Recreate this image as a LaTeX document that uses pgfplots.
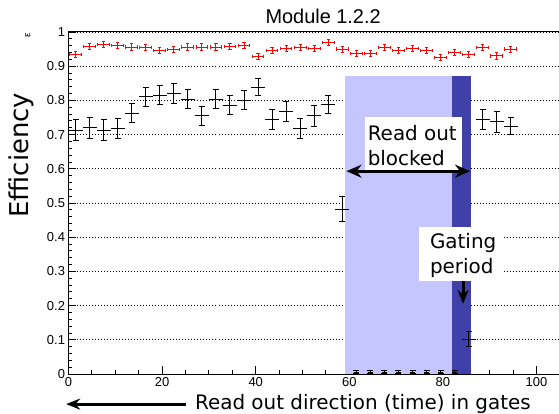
\documentclass[border=0pt]{standalone}
\usepackage{fontspec}
\setmainfont{Liberation Sans}
\newfontfamily\dejavu{DejaVu Sans}
\usepackage{pgfplots}
\pgfplotsset{compat=1.18}
\usetikzlibrary{arrows.meta,calc}
\definecolor{blocklight}{RGB}{197,197,255}
\definecolor{gatedark}{RGB}{64,64,170}
\definecolor{rootred}{RGB}{255,0,0}

\begin{document}
\begin{tikzpicture}
\begin{axis}[
    name=ax,
    scale only axis,
    width=490.5bp, height=342bp,
    xmin=0, xmax=104.8, ymin=0, ymax=1,
    clip=false,
    axis lines=left,
    axis line style={-, line width=1bp},
    tick align=inside,
    xtick={0,20,40,60,80,100},
    ytick={0,0.1,0.2,0.3,0.4,0.5,0.6,0.7,0.8,0.9,1},
    minor x tick num=3, minor y tick num=4,
    major tick length=8bp, minor tick length=4bp,
    tick style={line width=0.9bp, black},
    ymajorgrids,
    major grid style={black, line width=0.8bp, dash pattern=on 1bp off 2bp},
    tick label style={font=\fontsize{13}{15}\selectfont},
    /pgf/number format/assume math mode=true,
    yticklabel style={/pgf/number format/fixed},
]

% read-out blocked and gating bands
\addplot[fill=blocklight, draw=none] coordinates {(59,0.87) (82,0.87)} \closedcycle;
\addplot[fill=gatedark, draw=none] coordinates {(82,0.87) (86,0.87)} \closedcycle;

% red series
\addplot[draw=none, mark=none,
    error bars/.cd, x dir=both, x explicit, y dir=both, y explicit,
    error bar style={line width=1bp, rootred}, error mark=|,
    error mark options={mark size=1.6bp, line width=1bp, rootred}]
coordinates {
(1.5,0.934) +- (1.25,0.009)
(4.5,0.958) +- (1.25,0.009)
(7.5,0.963) +- (1.25,0.009)
(10.5,0.961) +- (1.25,0.009)
(13.5,0.956) +- (1.25,0.009)
(16.5,0.954) +- (1.25,0.009)
(19.5,0.945) +- (1.25,0.009)
(22.5,0.949) +- (1.25,0.009)
(25.5,0.956) +- (1.25,0.009)
(28.5,0.956) +- (1.25,0.009)
(31.5,0.956) +- (1.25,0.009)
(34.5,0.958) +- (1.25,0.009)
(37.5,0.961) +- (1.25,0.009)
(40.5,0.929) +- (1.25,0.009)
(43.5,0.945) +- (1.25,0.009)
(46.5,0.952) +- (1.25,0.009)
(49.5,0.955) +- (1.25,0.009)
(52.5,0.952) +- (1.25,0.009)
(55.5,0.969) +- (1.25,0.009)
(58.5,0.950) +- (1.25,0.009)
(61.5,0.937) +- (1.25,0.009)
(64.5,0.937) +- (1.25,0.009)
(67.5,0.955) +- (1.25,0.009)
(70.5,0.947) +- (1.25,0.009)
(73.5,0.952) +- (1.25,0.009)
(76.5,0.947) +- (1.25,0.009)
(79.5,0.925) +- (1.25,0.009)
(82.5,0.940) +- (1.25,0.009)
(85.5,0.934) +- (1.25,0.009)
(88.5,0.954) +- (1.25,0.009)
(91.5,0.930) +- (1.25,0.009)
(94.5,0.950) +- (1.25,0.009)
};

% black series: horizontal bars
\addplot[draw=none, mark=none,
    error bars/.cd, x dir=both, x explicit,
    error bar style={line width=1bp, black}, error mark=none]
table[x=x, y=y, x error=ex] {
x    y     ex
1.5  0.713 1.5
4.5  0.720 1.5
7.5  0.713 1.5
10.5 0.718 1.5
13.5 0.762 1.5
16.5 0.810 1.5
19.5 0.815 1.5
22.5 0.820 1.5
25.5 0.804 1.5
28.5 0.755 1.5
31.5 0.804 1.5
34.5 0.786 1.5
37.5 0.801 1.5
40.5 0.839 1.5
43.5 0.744 1.5
46.5 0.768 1.5
49.5 0.718 1.5
52.5 0.755 1.5
55.5 0.788 1.5
58.5 0.482 1.5
61.5 0.005 0.6
64.5 0.005 0.6
67.5 0.005 0.6
70.5 0.005 0.6
73.5 0.005 0.6
76.5 0.005 0.6
79.5 0.005 0.6
82.5 0.005 0.6
85.5 0.102 1.5
88.5 0.744 1.5
91.5 0.737 1.5
94.5 0.725 1.5
};

% black series: vertical bars with caps
\addplot[draw=none, mark=none,
    error bars/.cd, y dir=both, y explicit,
    error bar style={line width=1bp, black}, error mark=|,
    error mark options={mark size=3bp, line width=1bp, black}]
table[x=x, y=y, y error=ey] {
x    y     ey
1.5  0.713 0.031
4.5  0.720 0.030
7.5  0.713 0.031
10.5 0.718 0.030
13.5 0.762 0.028
16.5 0.810 0.028
19.5 0.815 0.028
22.5 0.820 0.028
25.5 0.804 0.028
28.5 0.755 0.028
31.5 0.804 0.028
34.5 0.786 0.028
37.5 0.801 0.028
40.5 0.839 0.025
43.5 0.744 0.030
46.5 0.768 0.030
49.5 0.718 0.030
52.5 0.755 0.030
55.5 0.788 0.025
58.5 0.482 0.036
61.5 0.005 0.004
64.5 0.005 0.004
67.5 0.005 0.004
70.5 0.005 0.004
73.5 0.005 0.004
76.5 0.005 0.004
79.5 0.005 0.004
82.5 0.005 0.004
85.5 0.102 0.023
88.5 0.744 0.030
91.5 0.737 0.030
94.5 0.725 0.025
};

% top frame
\draw[line width=1bp] (rel axis cs:0,1) -- (rel axis cs:1,1);

% annotations
\fill[white] (axis cs:63.4,0.596) rectangle (axis cs:84.1,0.751);
\node[anchor=west, align=left, inner sep=0pt,
      font=\dejavu\fontsize{20}{25}\selectfont] at (axis cs:63.9,0.668) {Read out\\blocked};
\draw[line width=3bp, {Stealth[length=15bp,width=13bp]}-{Stealth[length=15bp,width=13bp]}]
    (axis cs:59.4,0.593) -- (axis cs:85.8,0.593);

\fill[white] (axis cs:74.9,0.272) rectangle (axis cs:92.6,0.43);
\node[anchor=west, align=left, inner sep=0pt,
      font=\dejavu\fontsize{20}{25}\selectfont] at (axis cs:77.2,0.346) {Gating\\period};
\draw[line width=3bp, -{Stealth[length=14bp,width=11bp]}]
    (axis cs:84.3,0.272) -- (axis cs:84.3,0.205);

\node[font=\fontsize{20}{24}\selectfont] at (axis cs:54.4,1.045) {Module 1.2.2};
\node[rotate=90, font=\fontsize{10}{12}\selectfont] at (axis cs:-8.7,0.99) {ε};
\node[rotate=90, font=\dejavu\fontsize{26}{30}\selectfont] at (axis cs:-10.0,0.64) {Efficiency};

\node[anchor=west, inner sep=0pt, font=\dejavu\fontsize{20}{24}\selectfont]
    at (axis cs:27.0,-0.088) {Read out direction (time) in gates};
\draw[line width=3bp, -{Stealth[length=14bp,width=11bp]}]
    (axis cs:25.1,-0.088) -- (axis cs:-0.5,-0.088);
\end{axis}
\pgfresetboundingbox
\path ($(ax.south west)+(-68.5bp,-40bp)$) rectangle ($(ax.north east)+(0bp,32bp)$);
\end{tikzpicture}
\end{document}
